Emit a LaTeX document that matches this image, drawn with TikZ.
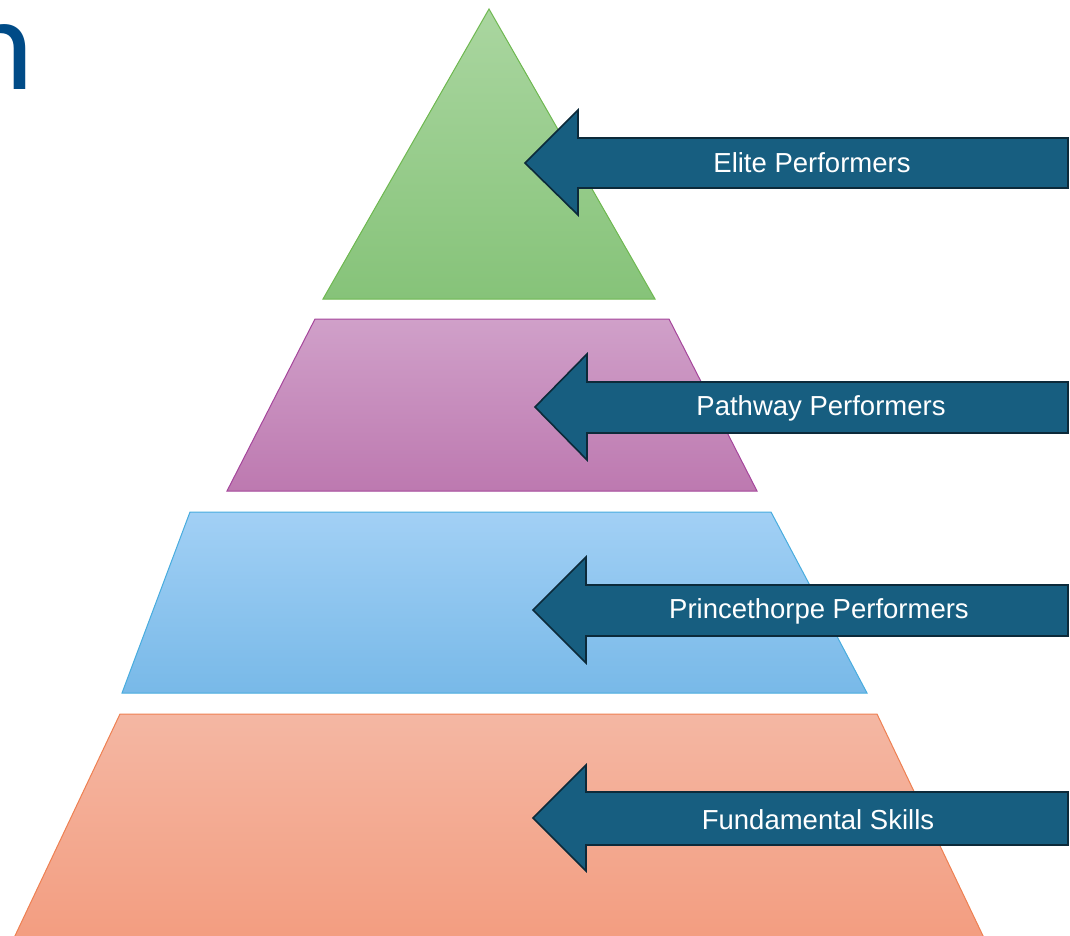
\documentclass[tikz,border=0pt]{standalone}
\usepackage{fontspec}
\setmainfont{Liberation Sans}
\newfontfamily\titlefont{Carlito}
\usetikzlibrary{positioning,calc}
\definecolor{TitleBlue}{RGB}{0,75,135}
\definecolor{ArrowBlue}{RGB}{23,94,128}
\definecolor{ArrowEdge}{RGB}{12,42,58}
\definecolor{GreenTop}{RGB}{170,214,160}
\definecolor{GreenBot}{RGB}{134,195,121}
\definecolor{GreenEdge}{RGB}{110,184,80}
\definecolor{PurpleTop}{RGB}{208,160,201}
\definecolor{PurpleBot}{RGB}{189,121,176}
\definecolor{PurpleEdge}{RGB}{165,70,155}
\definecolor{BlueTop}{RGB}{162,208,245}
\definecolor{BlueBot}{RGB}{120,185,232}
\definecolor{BlueEdge}{RGB}{72,172,222}
\definecolor{OrangeTop}{RGB}{244,183,163}
\definecolor{OrangeBot}{RGB}{243,157,128}
\definecolor{OrangeEdge}{RGB}{238,128,82}
\tikzset{
  tier/.style={line width=1pt,line join=miter},
  pointer/.style={fill=ArrowBlue,draw=ArrowEdge,line width=1.6pt,line join=miter},
  lab/.style={text=white,inner sep=0pt,font=\fontsize{27.5}{33}\selectfont},
}

\begin{document}
\begin{tikzpicture}[x=1pt,y=-1pt]
\useasboundingbox (0,0) rectangle (1070,936);
\clip (0,0) rectangle (1070,936);
% tail of the slide title
\node[anchor=base west,inner sep=0pt,text=TitleBlue,font=\titlefont\fontsize{134}{140}\selectfont] (title) at (-37,90) {n};
% pyramid tiers
\draw[tier,draw=GreenEdge,top color=GreenTop,bottom color=GreenBot] (489,9) -- (655,299) -- (323,299) -- cycle;
\draw[tier,draw=PurpleEdge,top color=PurpleTop,bottom color=PurpleBot] (315,319) -- (669,319) -- (757,491) -- (227,491) -- cycle;
\draw[tier,draw=BlueEdge,top color=BlueTop,bottom color=BlueBot] (190,512) -- (771,512) -- (867,693) -- (122,693) -- cycle;
\draw[tier,draw=OrangeEdge,top color=OrangeTop,bottom color=OrangeBot] (120,714) -- (877,714) -- (985,940) -- (13,940) -- cycle;
% arrows pointing into the tiers
\coordinate (t1) at (525,163);
\coordinate (t2) at (535,407);
\coordinate (t3) at (533,610);
\coordinate (t4) at (533,818);
\draw[pointer] (t1) -- (578,110) -- (578,138) -- (1068,138) -- (1068,188) -- (578,188) -- (578,215) -- cycle;
\draw[pointer] (t2) -- (587,354) -- (587,382) -- (1068,382) -- (1068,433) -- (587,433) -- (587,460) -- cycle;
\draw[pointer] (t3) -- (586,557) -- (586,585) -- (1068,585) -- (1068,636) -- (586,636) -- (586,663) -- cycle;
\draw[pointer] (t4) -- (586,765) -- (586,792) -- (1068,792) -- (1068,845) -- (586,845) -- (586,871) -- cycle;
\node[lab] (elite) at (812,163) {Elite Performers};
\node[lab] (pathway) at (821,408) {Pathway Performers};
\node[lab] (prince) at (819,611) {Princethorpe Performers};
\node[lab] (fund) at (818,820) {Fundamental Skills};
\end{tikzpicture}
\end{document}
